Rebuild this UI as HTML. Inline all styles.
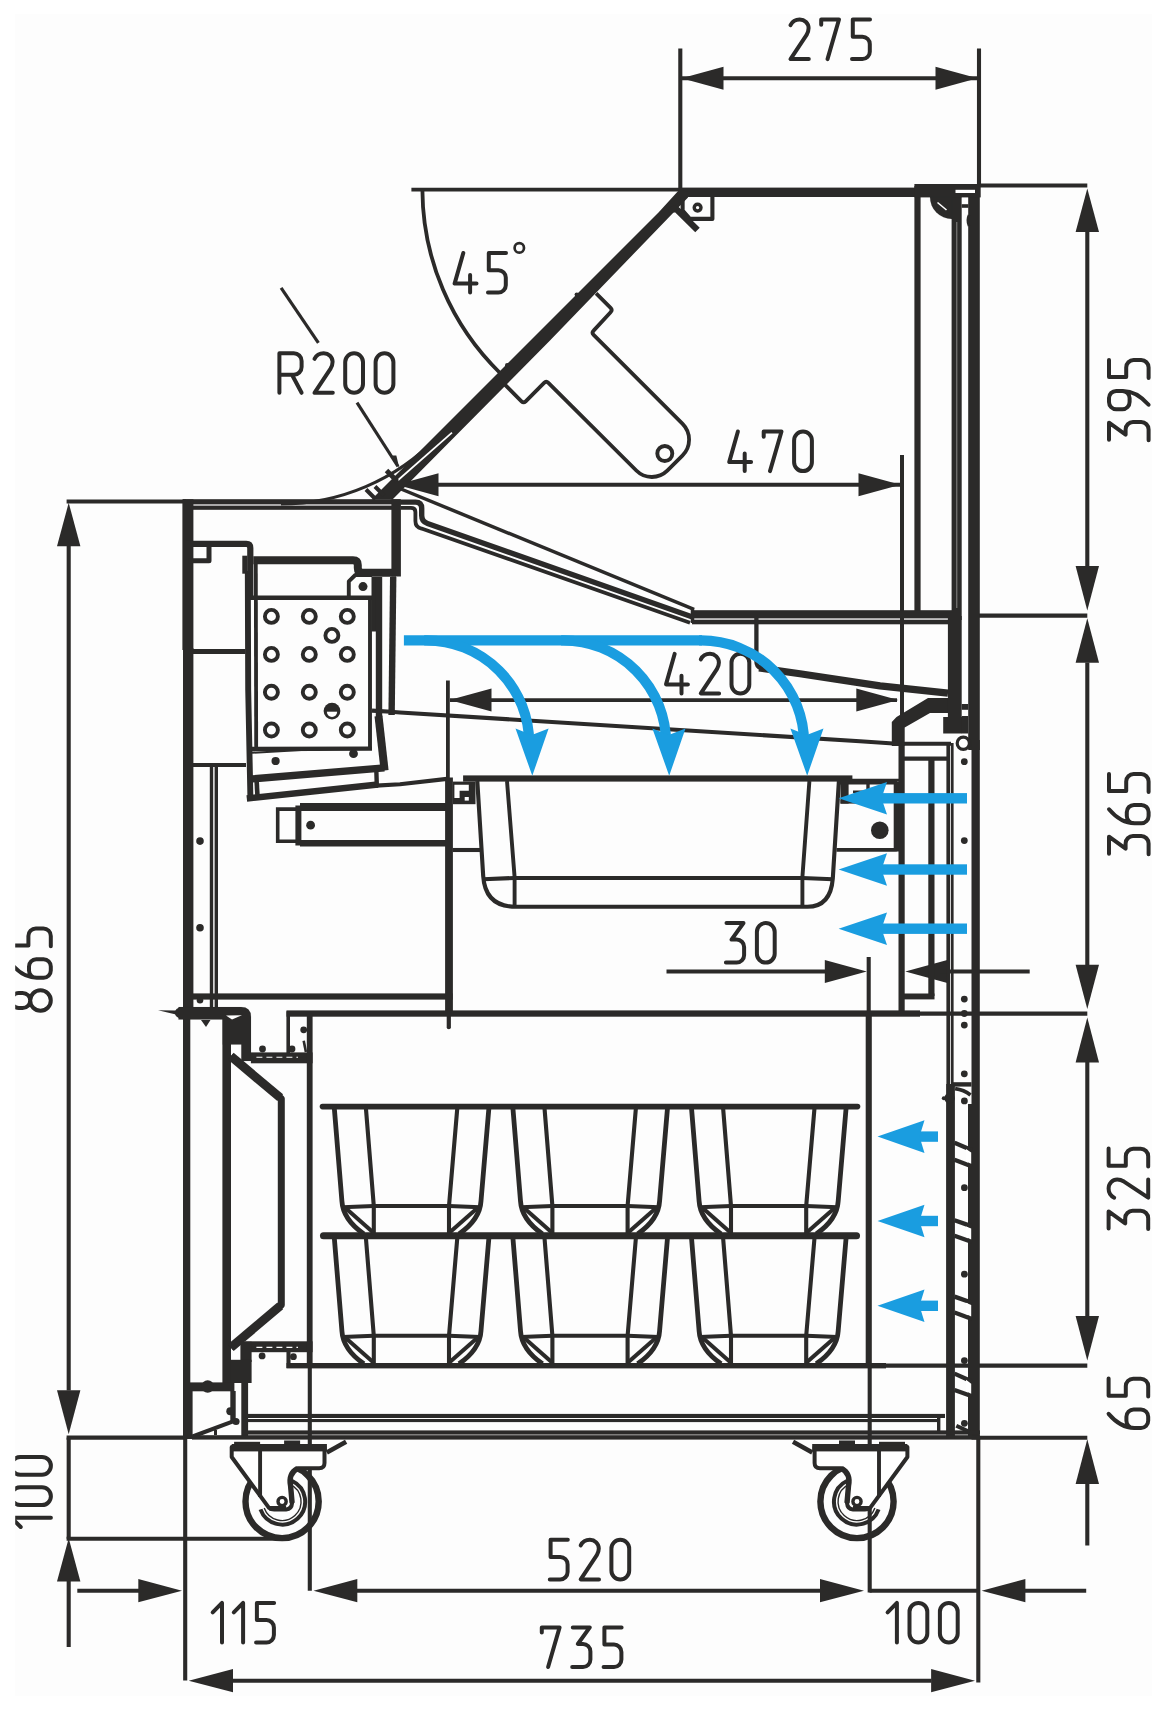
<!DOCTYPE html>
<html><head><meta charset="utf-8"><title>Section drawing</title>
<style>
html,body{margin:0;padding:0;background:#fff;}
body{width:1167px;height:1709px;overflow:hidden;font-family:"Liberation Sans",sans-serif;}
svg{display:block;}
</style></head><body>
<svg width="1167" height="1709" viewBox="0 0 1167 1709">
<rect width="1167" height="1709" fill="#ffffff"/><rect x="15.2" y="13.8" width="1136.8" height="1682.2" fill="#fdfdfd"/><defs><clipPath id="clipL"><rect x="15.2" y="0" width="200" height="1709"/></clipPath></defs>
<line x1="680.3" y1="48.5" x2="680.3" y2="188" stroke="#2b2a29" stroke-width="4.1" stroke-linecap="butt"/>
<line x1="979" y1="48.5" x2="979" y2="186" stroke="#2b2a29" stroke-width="4.1" stroke-linecap="butt"/>
<line x1="682" y1="78.2" x2="977" y2="78.2" stroke="#2b2a29" stroke-width="4.1" stroke-linecap="butt"/>
<polygon points="681.5,78.2 723.5,66.7 723.5,89.7" fill="#2b2a29"/>
<polygon points="977.5,78.2 935.5,66.7 935.5,89.7" fill="#2b2a29"/>
<g transform="translate(790.2,19.5) rotate(0) scale(1.0)" fill="none" stroke="#2b2a29" stroke-width="4.0" stroke-linecap="round" stroke-linejoin="round">
<path transform="translate(0.00,0)" d="M0.3,5.6 C2,2.2 5.5,0 9.5,0 A8.9,8.6 0 0 1 18.4,8.6 C18.4,11.2 17.8,13 16.4,15.4 L0.3,39.6 H18.6"/>
<path transform="translate(31.00,0)" d="M0,5.2 V0 H17.8 L6.3,39.6"/>
<path transform="translate(61.40,0)" d="M18.4,0 H1.2 V17.2 H10.8 A7.4,7.4 0 0 1 18.2,24.6 V32.2 A7.4,7.4 0 0 1 10.8,39.6 H0.4"/>
</g>
<line x1="1087.3" y1="232" x2="1087.3" y2="566" stroke="#2b2a29" stroke-width="4.1" stroke-linecap="butt"/>
<line x1="1087.3" y1="662.5" x2="1087.3" y2="965" stroke="#2b2a29" stroke-width="4.1" stroke-linecap="butt"/>
<line x1="1087.3" y1="1062" x2="1087.3" y2="1316.3" stroke="#2b2a29" stroke-width="4.1" stroke-linecap="butt"/>
<line x1="1087.3" y1="1484" x2="1087.3" y2="1545.5" stroke="#2b2a29" stroke-width="4.1" stroke-linecap="butt"/>
<line x1="980" y1="185.5" x2="1087.3" y2="185.5" stroke="#2b2a29" stroke-width="4.1" stroke-linecap="butt"/>
<line x1="979" y1="615.6" x2="1087.3" y2="615.6" stroke="#2b2a29" stroke-width="4.1" stroke-linecap="butt"/>
<line x1="915" y1="1013.6" x2="1087.3" y2="1013.6" stroke="#2b2a29" stroke-width="4.1" stroke-linecap="butt"/>
<line x1="885" y1="1365.6" x2="1087.3" y2="1365.6" stroke="#2b2a29" stroke-width="4.1" stroke-linecap="butt"/>
<line x1="980" y1="1437.7" x2="1087.3" y2="1437.7" stroke="#2b2a29" stroke-width="4.1" stroke-linecap="butt"/>
<polygon points="1087.3,188.5 1075.6,232.1 1099.0,232.1" fill="#2b2a29"/>
<polygon points="1087.3,610.6 1075.6,565.9 1099.0,565.9" fill="#2b2a29"/>
<polygon points="1087.3,618.3 1075.6,662.7 1099.0,662.7" fill="#2b2a29"/>
<polygon points="1087.3,1009.1 1075.6,964.7 1099.0,964.7" fill="#2b2a29"/>
<polygon points="1087.3,1017.6 1075.6,1062.4 1099.0,1062.4" fill="#2b2a29"/>
<polygon points="1087.3,1360.4 1075.6,1316.1 1099.0,1316.1" fill="#2b2a29"/>
<polygon points="1087.3,1439.2 1075.6,1484.1 1099.0,1484.1" fill="#2b2a29"/>
<g transform="translate(1109,440.3) rotate(-90) scale(1.0)" fill="none" stroke="#2b2a29" stroke-width="4.0" stroke-linecap="round" stroke-linejoin="round">
<path transform="translate(0.00,0)" d="M0.6,0 H17.6 L5.6,16.6 H10.8 A7.4,7.4 0 0 1 18.2,24 V32.2 A7.4,7.4 0 0 1 10.8,39.6 H0"/>
<path transform="translate(31.00,0)" d="M4.6,39.6 C11,34 18.4,24.5 18.4,14 V7.2 A7.2,7.2 0 0 0 11.2,0 H7.2 A7.2,7.2 0 0 0 0,7.2 V13.4 A7.2,7.2 0 0 0 7.2,20.6 H11.2 A7.2,7.2 0 0 0 18.4,13.4"/>
<path transform="translate(62.00,0)" d="M18.4,0 H1.2 V17.2 H10.8 A7.4,7.4 0 0 1 18.2,24.6 V32.2 A7.4,7.4 0 0 1 10.8,39.6 H0.4"/>
</g>
<g transform="translate(1109,854.3) rotate(-90) scale(1.0)" fill="none" stroke="#2b2a29" stroke-width="4.0" stroke-linecap="round" stroke-linejoin="round">
<path transform="translate(0.00,0)" d="M0.6,0 H17.6 L5.6,16.6 H10.8 A7.4,7.4 0 0 1 18.2,24 V32.2 A7.4,7.4 0 0 1 10.8,39.6 H0"/>
<path transform="translate(31.00,0)" d="M14,0 C7.5,5.5 0,15 0,25.5 V32.4 A7.2,7.2 0 0 0 7.2,39.6 H11.2 A7.2,7.2 0 0 0 18.4,32.4 V25 A7.2,7.2 0 0 0 11.2,17.8 H7.2 A7.2,7.2 0 0 0 0,25"/>
<path transform="translate(62.00,0)" d="M18.4,0 H1.2 V17.2 H10.8 A7.4,7.4 0 0 1 18.2,24.6 V32.2 A7.4,7.4 0 0 1 10.8,39.6 H0.4"/>
</g>
<g transform="translate(1108.6,1229) rotate(-90) scale(1.0)" fill="none" stroke="#2b2a29" stroke-width="4.0" stroke-linecap="round" stroke-linejoin="round">
<path transform="translate(0.00,0)" d="M0.6,0 H17.6 L5.6,16.6 H10.8 A7.4,7.4 0 0 1 18.2,24 V32.2 A7.4,7.4 0 0 1 10.8,39.6 H0"/>
<path transform="translate(31.00,0)" d="M0.3,5.6 C2,2.2 5.5,0 9.5,0 A8.9,8.6 0 0 1 18.4,8.6 C18.4,11.2 17.8,13 16.4,15.4 L0.3,39.6 H18.6"/>
<path transform="translate(62.00,0)" d="M18.4,0 H1.2 V17.2 H10.8 A7.4,7.4 0 0 1 18.2,24.6 V32.2 A7.4,7.4 0 0 1 10.8,39.6 H0.4"/>
</g>
<g transform="translate(1108.6,1427.9) rotate(-90) scale(1.0)" fill="none" stroke="#2b2a29" stroke-width="4.0" stroke-linecap="round" stroke-linejoin="round">
<path transform="translate(0.00,0)" d="M14,0 C7.5,5.5 0,15 0,25.5 V32.4 A7.2,7.2 0 0 0 7.2,39.6 H11.2 A7.2,7.2 0 0 0 18.4,32.4 V25 A7.2,7.2 0 0 0 11.2,17.8 H7.2 A7.2,7.2 0 0 0 0,25"/>
<path transform="translate(31.00,0)" d="M18.4,0 H1.2 V17.2 H10.8 A7.4,7.4 0 0 1 18.2,24.6 V32.2 A7.4,7.4 0 0 1 10.8,39.6 H0.4"/>
</g>
<line x1="68.7" y1="546" x2="68.7" y2="1390.5" stroke="#2b2a29" stroke-width="4.1" stroke-linecap="butt"/>
<line x1="68.7" y1="1437.6" x2="68.7" y2="1538.8" stroke="#2b2a29" stroke-width="4.1" stroke-linecap="butt"/>
<line x1="68.7" y1="1581" x2="68.7" y2="1647" stroke="#2b2a29" stroke-width="4.1" stroke-linecap="butt"/>
<line x1="66.6" y1="501.5" x2="186" y2="501.5" stroke="#2b2a29" stroke-width="4.1" stroke-linecap="butt"/>
<line x1="66.6" y1="1437.6" x2="186" y2="1437.6" stroke="#2b2a29" stroke-width="4.1" stroke-linecap="butt"/>
<line x1="66.6" y1="1538.8" x2="283" y2="1538.8" stroke="#2b2a29" stroke-width="4.1" stroke-linecap="butt"/>
<polygon points="68.7,502.8 57.0,546.3 80.4,546.3" fill="#2b2a29"/>
<polygon points="68.7,1434.3 57.0,1390.3 80.4,1390.3" fill="#2b2a29"/>
<polygon points="68.7,1538.3 57.0,1581.4 80.4,1581.4" fill="#2b2a29"/>
<g clip-path="url(#clipL)">
<g transform="translate(11.2,1010.7) rotate(-90) scale(1.0)" fill="none" stroke="#2b2a29" stroke-width="4.0" stroke-linecap="round" stroke-linejoin="round">
<path transform="translate(0.00,0)" d="M10.2,0 A7.6,7.6 0 0 1 17.8,7.6 V11.4 A7.6,7.6 0 0 1 2.6,11.4 V7.6 A7.6,7.6 0 0 1 10.2,0 Z M10.2,19 A10.2,10.3 0 0 1 10.2,39.6 A10.2,10.3 0 0 1 10.2,19 Z"/>
<path transform="translate(33.00,0)" d="M14,0 C7.5,5.5 0,15 0,25.5 V32.4 A7.2,7.2 0 0 0 7.2,39.6 H11.2 A7.2,7.2 0 0 0 18.4,32.4 V25 A7.2,7.2 0 0 0 11.2,17.8 H7.2 A7.2,7.2 0 0 0 0,25"/>
<path transform="translate(64.00,0)" d="M18.4,0 H1.2 V17.2 H10.8 A7.4,7.4 0 0 1 18.2,24.6 V32.2 A7.4,7.4 0 0 1 10.8,39.6 H0.4"/>
</g>
<g transform="translate(11.3,1526.2) rotate(-90) scale(1.0)" fill="none" stroke="#2b2a29" stroke-width="4.0" stroke-linecap="round" stroke-linejoin="round">
<path transform="translate(0.00,0)" d="M-0.8,9.4 L8.5,0 V39.6"/>
<path transform="translate(21.10,0)" d="M0,8.9 A8.9,8.9 0 0 1 17.8,8.9 V30.7 A8.9,8.9 0 0 1 0,30.7 Z"/>
<path transform="translate(51.50,0)" d="M0,8.9 A8.9,8.9 0 0 1 17.8,8.9 V30.7 A8.9,8.9 0 0 1 0,30.7 Z"/>
</g>
</g>
<line x1="77.3" y1="1590.7" x2="139" y2="1590.7" stroke="#2b2a29" stroke-width="4.1" stroke-linecap="butt"/>
<polygon points="182,1590.7 138.3,1579.1000000000001 138.3,1602.3" fill="#2b2a29"/>
<line x1="357" y1="1590.7" x2="820.5" y2="1590.7" stroke="#2b2a29" stroke-width="4.1" stroke-linecap="butt"/>
<polygon points="313.5,1590.7 357.3,1579.1000000000001 357.3,1602.3" fill="#2b2a29"/>
<polygon points="864,1590.7 820,1579.1000000000001 820,1602.3" fill="#2b2a29"/>
<line x1="869.5" y1="1590.7" x2="978.4" y2="1590.7" stroke="#2b2a29" stroke-width="4.1" stroke-linecap="butt"/>
<polygon points="981.6,1590.7 1025.4,1579.1000000000001 1025.4,1602.3" fill="#2b2a29"/>
<line x1="1025" y1="1590.7" x2="1086.2" y2="1590.7" stroke="#2b2a29" stroke-width="4.1" stroke-linecap="butt"/>
<line x1="232.5" y1="1680.7" x2="931.5" y2="1680.7" stroke="#2b2a29" stroke-width="4.1" stroke-linecap="butt"/>
<polygon points="188.7,1680.7 233,1669.1000000000001 233,1692.3" fill="#2b2a29"/>
<polygon points="975,1680.7 931.1,1669.1000000000001 931.1,1692.3" fill="#2b2a29"/>
<line x1="185.2" y1="1437" x2="185.2" y2="1680.5" stroke="#2b2a29" stroke-width="4.1" stroke-linecap="butt"/>
<line x1="309.8" y1="1366" x2="309.8" y2="1590.7" stroke="#2b2a29" stroke-width="4.1" stroke-linecap="butt"/>
<line x1="869.7" y1="1366" x2="869.7" y2="1592.5" stroke="#2b2a29" stroke-width="4.1" stroke-linecap="butt"/>
<line x1="978.3" y1="1439" x2="978.3" y2="1682.5" stroke="#2b2a29" stroke-width="4.1" stroke-linecap="butt"/>
<g transform="translate(549.4,1539.8) rotate(0) scale(1.0)" fill="none" stroke="#2b2a29" stroke-width="4.0" stroke-linecap="round" stroke-linejoin="round">
<path transform="translate(0.00,0)" d="M18.4,0 H1.2 V17.2 H10.8 A7.4,7.4 0 0 1 18.2,24.6 V32.2 A7.4,7.4 0 0 1 10.8,39.6 H0.4"/>
<path transform="translate(31.00,0)" d="M0.3,5.6 C2,2.2 5.5,0 9.5,0 A8.9,8.6 0 0 1 18.4,8.6 C18.4,11.2 17.8,13 16.4,15.4 L0.3,39.6 H18.6"/>
<path transform="translate(62.00,0)" d="M0,8.9 A8.9,8.9 0 0 1 17.8,8.9 V30.7 A8.9,8.9 0 0 1 0,30.7 Z"/>
</g>
<g transform="translate(541.8,1627.4) rotate(0) scale(1.0)" fill="none" stroke="#2b2a29" stroke-width="4.0" stroke-linecap="round" stroke-linejoin="round">
<path transform="translate(0.00,0)" d="M0,5.2 V0 H17.8 L6.3,39.6"/>
<path transform="translate(30.40,0)" d="M0.6,0 H17.6 L5.6,16.6 H10.8 A7.4,7.4 0 0 1 18.2,24 V32.2 A7.4,7.4 0 0 1 10.8,39.6 H0"/>
<path transform="translate(61.40,0)" d="M18.4,0 H1.2 V17.2 H10.8 A7.4,7.4 0 0 1 18.2,24.6 V32.2 A7.4,7.4 0 0 1 10.8,39.6 H0.4"/>
</g>
<g transform="translate(213.5,1602.9) rotate(0) scale(1.0)" fill="none" stroke="#2b2a29" stroke-width="4.0" stroke-linecap="round" stroke-linejoin="round">
<path transform="translate(0.00,0)" d="M-0.8,9.4 L8.5,0 V39.6"/>
<path transform="translate(21.10,0)" d="M-0.8,9.4 L8.5,0 V39.6"/>
<path transform="translate(42.20,0)" d="M18.4,0 H1.2 V17.2 H10.8 A7.4,7.4 0 0 1 18.2,24.6 V32.2 A7.4,7.4 0 0 1 10.8,39.6 H0.4"/>
</g>
<g transform="translate(888.4,1602.9) rotate(0) scale(1.0)" fill="none" stroke="#2b2a29" stroke-width="4.0" stroke-linecap="round" stroke-linejoin="round">
<path transform="translate(0.00,0)" d="M-0.8,9.4 L8.5,0 V39.6"/>
<path transform="translate(21.10,0)" d="M0,8.9 A8.9,8.9 0 0 1 17.8,8.9 V30.7 A8.9,8.9 0 0 1 0,30.7 Z"/>
<path transform="translate(51.50,0)" d="M0,8.9 A8.9,8.9 0 0 1 17.8,8.9 V30.7 A8.9,8.9 0 0 1 0,30.7 Z"/>
</g>
<line x1="398" y1="484.7" x2="901" y2="484.7" stroke="#2b2a29" stroke-width="4.0" stroke-linecap="butt"/>
<polygon points="396.5,484.7 438.5,473.2 438.5,496.2" fill="#2b2a29"/>
<polygon points="900.5,484.7 858.5,473.2 858.5,496.2" fill="#2b2a29"/>
<line x1="902" y1="455" x2="902" y2="745" stroke="#2b2a29" stroke-width="4.0" stroke-linecap="butt"/>
<g transform="translate(729.2,431.5) rotate(0) scale(1.0)" fill="none" stroke="#2b2a29" stroke-width="4.0" stroke-linecap="round" stroke-linejoin="round">
<path transform="translate(0.00,0)" d="M8.7,0 L0,30.6 H21.9 M15.5,22 V39.6"/>
<path transform="translate(34.50,0)" d="M0,5.2 V0 H17.8 L6.3,39.6"/>
<path transform="translate(64.90,0)" d="M0,8.9 A8.9,8.9 0 0 1 17.8,8.9 V30.7 A8.9,8.9 0 0 1 0,30.7 Z"/>
</g>
<line x1="450" y1="700.1" x2="897" y2="700.1" stroke="#2b2a29" stroke-width="3.8" stroke-linecap="butt"/>
<polygon points="449.5,700.1 491.5,688.6 491.5,711.6" fill="#2b2a29"/>
<polygon points="898.3,700.1 856.3,688.6 856.3,711.6" fill="#2b2a29"/>
<line x1="447.9" y1="680.5" x2="447.9" y2="778" stroke="#2b2a29" stroke-width="3.8" stroke-linecap="butt"/>
<g transform="translate(666,653.8) rotate(0) scale(1.0)" fill="none" stroke="#2b2a29" stroke-width="4.0" stroke-linecap="round" stroke-linejoin="round">
<path transform="translate(0.00,0)" d="M8.7,0 L0,30.6 H21.9 M15.5,22 V39.6"/>
<path transform="translate(34.50,0)" d="M0.3,5.6 C2,2.2 5.5,0 9.5,0 A8.9,8.6 0 0 1 18.4,8.6 C18.4,11.2 17.8,13 16.4,15.4 L0.3,39.6 H18.6"/>
<path transform="translate(65.50,0)" d="M0,8.9 A8.9,8.9 0 0 1 17.8,8.9 V30.7 A8.9,8.9 0 0 1 0,30.7 Z"/>
</g>
<line x1="666.5" y1="971.6" x2="830" y2="971.6" stroke="#2b2a29" stroke-width="4.0" stroke-linecap="butt"/>
<polygon points="866.8,971.6 824.8,960.1 824.8,983.1" fill="#2b2a29"/>
<line x1="868.7" y1="957" x2="868.7" y2="1012" stroke="#2b2a29" stroke-width="4.1" stroke-linecap="butt"/>
<polygon points="905.3,971.6 947.3,960.1 947.3,983.1" fill="#2b2a29"/>
<line x1="940" y1="971.6" x2="1029.7" y2="971.6" stroke="#2b2a29" stroke-width="4.0" stroke-linecap="butt"/>
<g transform="translate(725.9,923) rotate(0) scale(1.0)" fill="none" stroke="#2b2a29" stroke-width="4.0" stroke-linecap="round" stroke-linejoin="round">
<path transform="translate(0.00,0)" d="M0.6,0 H17.6 L5.6,16.6 H10.8 A7.4,7.4 0 0 1 18.2,24 V32.2 A7.4,7.4 0 0 1 10.8,39.6 H0"/>
<path transform="translate(31.00,0)" d="M0,8.9 A8.9,8.9 0 0 1 17.8,8.9 V30.7 A8.9,8.9 0 0 1 0,30.7 Z"/>
</g>
<line x1="281.1" y1="287.8" x2="318.4" y2="342.8" stroke="#2b2a29" stroke-width="3.2" stroke-linecap="butt"/>
<line x1="357" y1="402.7" x2="398" y2="466.5" stroke="#2b2a29" stroke-width="3.2" stroke-linecap="butt"/>
<polygon points="399.5,468.5 392.3,455.5 396.3,455.5" fill="#2b2a29"/>
<g transform="translate(279.4,353.2) rotate(0) scale(1.0)" fill="none" stroke="#2b2a29" stroke-width="4.0" stroke-linecap="round" stroke-linejoin="round">
<path transform="translate(0.00,0)" d="M0,39.6 V0 H14.4 A7.8,7.8 0 0 1 22.2,7.8 V13.8 A7.8,7.8 0 0 1 14.4,21.6 H0 M12.6,21.6 L22.2,39.6"/>
<path transform="translate(34.80,0)" d="M0.3,5.6 C2,2.2 5.5,0 9.5,0 A8.9,8.6 0 0 1 18.4,8.6 C18.4,11.2 17.8,13 16.4,15.4 L0.3,39.6 H18.6"/>
<path transform="translate(65.80,0)" d="M0,8.9 A8.9,8.9 0 0 1 17.8,8.9 V30.7 A8.9,8.9 0 0 1 0,30.7 Z"/>
<path transform="translate(96.20,0)" d="M0,8.9 A8.9,8.9 0 0 1 17.8,8.9 V30.7 A8.9,8.9 0 0 1 0,30.7 Z"/>
</g>
<line x1="411.4" y1="189.6" x2="681" y2="189.6" stroke="#2b2a29" stroke-width="3.8" stroke-linecap="butt"/>
<path d="M422.4,190 A257.6,257.6 0 0 0 500.5,373.5" stroke="#2b2a29" stroke-width="3.8" fill="none" stroke-linejoin="round" stroke-linecap="butt"/>
<g transform="translate(454.6,253) rotate(0) scale(1.0)" fill="none" stroke="#2b2a29" stroke-width="4.0" stroke-linecap="round" stroke-linejoin="round">
<path transform="translate(0.00,0)" d="M8.7,0 L0,30.6 H21.9 M15.5,22 V39.6"/>
</g>
<g transform="translate(487.6,253) rotate(0) scale(1.0)" fill="none" stroke="#2b2a29" stroke-width="4.0" stroke-linecap="round" stroke-linejoin="round">
<path transform="translate(0.00,0)" d="M18.4,0 H1.2 V17.2 H10.8 A7.4,7.4 0 0 1 18.2,24.6 V32.2 A7.4,7.4 0 0 1 10.8,39.6 H0.4"/>
</g>
<circle cx="519.3" cy="247.9" r="4.7" fill="none" stroke="#2b2a29" stroke-width="2.7"/>
<rect x="681" y="187.6" width="236" height="9.400000000000006" fill="#2b2a29"/>
<polygon points="679.5,189.5 658.5,212.5 371.5,499.5 392.5,499.5 550,340.5 688,197.5 688,192" fill="#2b2a29"/>
<line x1="398.2" y1="480" x2="452" y2="432.6" stroke="#fff" stroke-width="1.7" stroke-linecap="butt"/>
<path d="M281,504 A216,216 0 0 0 437,437.4" stroke="#2b2a29" stroke-width="3.0" fill="none" stroke-linejoin="round" stroke-linecap="butt"/>
<line x1="386.5" y1="470.5" x2="397" y2="481" stroke="#2b2a29" stroke-width="5.0" stroke-linecap="butt"/>
<line x1="366" y1="489.5" x2="375.5" y2="499" stroke="#2b2a29" stroke-width="4.0" stroke-linecap="butt"/>
<line x1="375" y1="486.5" x2="384" y2="495.5" stroke="#2b2a29" stroke-width="4.0" stroke-linecap="butt"/>
<path d="M682.6,197 V210.7 L689.8,218.9 H712.4 V197" stroke="#2b2a29" stroke-width="4.1" fill="none" stroke-linejoin="round" stroke-linecap="butt"/>
<circle cx="697.6" cy="207.6" r="3.4" fill="none" stroke="#2b2a29" stroke-width="3.4"/>
<path d="M671.8,212.5 Q672,207 677,209.8 L697.5,230" stroke="#2b2a29" stroke-width="6.4" fill="none" stroke-linejoin="round" stroke-linecap="butt"/>
<path d="M596.1,293.4 L610.6,307.9 Q612.7,310.1 610.6,312.2 L593.6,330.6 Q591.5,332.7 593.6,334.8 L682.6,423.8 A22.5,22.5 0 0 1 682.4,455.6 L667.3,470.7 A22,22 0 0 1 636.3,470.5 L548.4,382.9 Q546.2,380.8 544.1,382.9 L525.7,401.3 Q523.6,403.4 521.5,401.3 L504.9,384.7" stroke="#2b2a29" stroke-width="3.8" fill="none" stroke-linejoin="round" stroke-linecap="butt"/>
<circle cx="664.8" cy="453.5" r="7.5" fill="none" stroke="#2b2a29" stroke-width="3.9"/>
<circle cx="576.8" cy="294.6" r="2.2" fill="#2b2a29"/>
<circle cx="507.2" cy="365.2" r="2.2" fill="#2b2a29"/>
<rect x="914.4" y="186" width="6.2000000000000455" height="430" fill="#2b2a29"/>
<rect x="951.6" y="197" width="10.100000000000023" height="423" fill="#2b2a29"/>
<line x1="956.8" y1="222" x2="956.8" y2="608" stroke="#8a8988" stroke-width="1.0" stroke-linecap="butt"/>
<rect x="968.2" y="186" width="11.599999999999909" height="564" fill="#2b2a29"/>
<rect x="971.5" y="740" width="8.299999999999955" height="699.5999999999999" fill="#2b2a29"/>
<rect x="914.4" y="184" width="66.30000000000007" height="13.400000000000006" fill="#2b2a29"/>
<rect x="955.5" y="189.8" width="19.5" height="3.1999999999999886" fill="#fff"/>
<rect x="961.9" y="198" width="5.800000000000068" height="6.5" fill="#fff"/>
<path d="M930,197 A22,22 0 0 0 952,219 V197 Z" stroke="#2b2a29" stroke-width="0.1" fill="#2b2a29" stroke-linejoin="round" stroke-linecap="butt"/>
<line x1="937.5" y1="202.5" x2="946.5" y2="210" stroke="#fff" stroke-width="1.6" stroke-linecap="butt"/>
<rect x="961.7" y="204.2" width="6.7999999999999545" height="3.6000000000000227" fill="#2b2a29"/>
<path d="M969,215 Q966.6,220 969,226" stroke="#2b2a29" stroke-width="2.6" fill="none" stroke-linejoin="round" stroke-linecap="butt"/>
<line x1="401" y1="489" x2="694" y2="609.4" stroke="#2b2a29" stroke-width="3.5" stroke-linecap="butt"/>
<path d="M400.5,502.1 H415.5 Q421.7,502.1 421.7,508.3 V515.5 Q421.7,521.5 427.5,523.5 L692.5,617" stroke="#2b2a29" stroke-width="5.4" fill="none" stroke-linejoin="round" stroke-linecap="butt"/>
<path d="M400.5,507.8 H411 Q415.4,507.8 415.4,512 V521 Q415.4,527.5 421.5,528.5 L690,622.7" stroke="#2b2a29" stroke-width="3.8" fill="none" stroke-linejoin="round" stroke-linecap="butt"/>
<line x1="692.5" y1="608" x2="692.5" y2="623" stroke="#2b2a29" stroke-width="3.5" stroke-linecap="butt"/>
<rect x="692" y="610.2" width="260" height="8.199999999999932" fill="#2b2a29"/>
<rect x="692" y="619.7" width="256" height="4.599999999999909" fill="#2b2a29"/>
<path d="M756.4,617 V661 Q756.4,667 761,668.2" stroke="#2b2a29" stroke-width="4.3" fill="none" stroke-linejoin="round" stroke-linecap="butt"/>
<path d="M759,667.9 L800,673.8 L880,685.9 L948,693.2" stroke="#2b2a29" stroke-width="7.2" fill="none" stroke-linejoin="round" stroke-linecap="butt"/>
<rect x="183" y="499.2" width="217.60000000000002" height="5.199999999999989" fill="#2b2a29"/>
<rect x="186" y="505.6" width="214" height="4.199999999999989" fill="#2b2a29"/>
<rect x="182.4" y="499.3" width="11.0" height="150.7" fill="#2b2a29"/>
<rect x="183" y="648" width="10.400000000000006" height="368" fill="#2b2a29"/>
<rect x="391.4" y="499.3" width="9.5" height="77.19999999999999" fill="#2b2a29"/>
<rect x="190" y="993.4" width="262.6" height="6.2000000000000455" fill="#2b2a29"/>
<rect x="209.8" y="765" width="3.3999999999999773" height="242" fill="#2b2a29"/>
<rect x="214.6" y="765" width="3.4000000000000057" height="242" fill="#2b2a29"/>
<line x1="192" y1="764.9" x2="246" y2="764.9" stroke="#2b2a29" stroke-width="4.0" stroke-linecap="butt"/>
<line x1="191" y1="651.5" x2="245.5" y2="651.5" stroke="#2b2a29" stroke-width="5.0" stroke-linecap="butt"/>
<circle cx="200" cy="841.1" r="3.8" fill="#2b2a29"/>
<circle cx="200" cy="927.7" r="3.8" fill="#2b2a29"/>
<path d="M188.9,560.8 H209 V544.1" stroke="#2b2a29" stroke-width="5.0" fill="none" stroke-linejoin="round" stroke-linecap="butt"/>
<path d="M186,543.8 H246.3 Q250.3,543.8 250.3,548 V599" stroke="#2b2a29" stroke-width="6.2" fill="none" stroke-linejoin="round" stroke-linecap="butt"/>
<path d="M247.8,571 L248.2,690 L250.4,797.8" stroke="#2b2a29" stroke-width="5.9" fill="none" stroke-linejoin="round" stroke-linecap="butt"/>
<rect x="242.3" y="555.7" width="5.199999999999989" height="18.0" fill="#2b2a29"/>
<path d="M253.3,560.2 H353 Q357.8,560.2 357.8,565 V568 Q357.8,572.7 362.5,572.7 H396" stroke="#2b2a29" stroke-width="8.0" fill="none" stroke-linejoin="round" stroke-linecap="butt"/>
<line x1="255.8" y1="564" x2="256.2" y2="749" stroke="#2b2a29" stroke-width="3.8" stroke-linecap="butt"/>
<path d="M348.8,596.2 V581.4 L355.3,575 H372" stroke="#2b2a29" stroke-width="3.9" fill="none" stroke-linejoin="round" stroke-linecap="butt"/>
<circle cx="363" cy="586.6" r="4.5" fill="#2b2a29"/>
<line x1="249" y1="597.8" x2="372" y2="597.8" stroke="#2b2a29" stroke-width="4.5" stroke-linecap="butt"/>
<line x1="370" y1="596" x2="370" y2="750" stroke="#2b2a29" stroke-width="3.9" stroke-linecap="butt"/>
<line x1="252" y1="749" x2="372" y2="748.6" stroke="#2b2a29" stroke-width="4.4" stroke-linecap="butt"/>
<line x1="252" y1="752.8" x2="310" y2="749.5" stroke="#2b2a29" stroke-width="2.0" stroke-linecap="butt"/>
<circle cx="271.4" cy="616.4" r="6.5" fill="none" stroke="#2b2a29" stroke-width="3.9"/>
<circle cx="309.3" cy="616.4" r="6.5" fill="none" stroke="#2b2a29" stroke-width="3.9"/>
<circle cx="347.3" cy="616.4" r="6.5" fill="none" stroke="#2b2a29" stroke-width="3.9"/>
<circle cx="271.4" cy="654.4" r="6.5" fill="none" stroke="#2b2a29" stroke-width="3.9"/>
<circle cx="309.3" cy="654.4" r="6.5" fill="none" stroke="#2b2a29" stroke-width="3.9"/>
<circle cx="347.3" cy="654.4" r="6.5" fill="none" stroke="#2b2a29" stroke-width="3.9"/>
<circle cx="271.4" cy="692.2" r="6.5" fill="none" stroke="#2b2a29" stroke-width="3.9"/>
<circle cx="309.3" cy="692.2" r="6.5" fill="none" stroke="#2b2a29" stroke-width="3.9"/>
<circle cx="347.3" cy="692.2" r="6.5" fill="none" stroke="#2b2a29" stroke-width="3.9"/>
<circle cx="271.4" cy="730" r="6.5" fill="none" stroke="#2b2a29" stroke-width="3.9"/>
<circle cx="309.3" cy="730" r="6.5" fill="none" stroke="#2b2a29" stroke-width="3.9"/>
<circle cx="347.3" cy="730" r="6.5" fill="none" stroke="#2b2a29" stroke-width="3.9"/>
<circle cx="331.9" cy="635.4" r="6.5" fill="none" stroke="#2b2a29" stroke-width="3.9"/>
<circle cx="332" cy="711.1" r="8.4" fill="#2b2a29"/>
<path d="M326.9,711.8 A5.1,5.1 0 0 0 337.1,711.8 Z" stroke="#fff" stroke-width="0.1" fill="#fff" stroke-linejoin="round" stroke-linecap="butt"/>
<line x1="374" y1="577" x2="374" y2="631.5" stroke="#2b2a29" stroke-width="5.0" stroke-linecap="butt"/>
<line x1="379" y1="577" x2="379" y2="717" stroke="#2b2a29" stroke-width="6.4" stroke-linecap="butt"/>
<line x1="393.2" y1="577" x2="391.6" y2="715" stroke="#2b2a29" stroke-width="6.4" stroke-linecap="butt"/>
<line x1="378.5" y1="716" x2="384.6" y2="770.5" stroke="#2b2a29" stroke-width="8.0" stroke-linecap="butt"/>
<line x1="251.8" y1="778.9" x2="384.4" y2="767.9" stroke="#2b2a29" stroke-width="7.3" stroke-linecap="butt"/>
<line x1="246.8" y1="798.5" x2="378" y2="784.6" stroke="#2b2a29" stroke-width="6.5" stroke-linecap="butt"/>
<path d="M376,785.6 L400,784.3 L447,778.9" stroke="#2b2a29" stroke-width="4.1" fill="none" stroke-linejoin="round" stroke-linecap="butt"/>
<line x1="256.5" y1="779" x2="257.5" y2="796" stroke="#2b2a29" stroke-width="4.6" stroke-linecap="butt"/>
<line x1="376.3" y1="770" x2="376.8" y2="785" stroke="#2b2a29" stroke-width="4.4" stroke-linecap="butt"/>
<circle cx="275.6" cy="761" r="4.1" fill="#2b2a29"/>
<circle cx="353.5" cy="753.7" r="4.4" fill="#2b2a29"/>
<path d="M372,710.6 L391,711.8 L400,712.5 L580,723.7 L860,741.2 L897,743.8" stroke="#2b2a29" stroke-width="4.1" fill="none" stroke-linejoin="round" stroke-linecap="butt"/>
<path d="M277.7,809.1 H298 M277.7,841.2 H298 M277.7,807.3 V843" stroke="#2b2a29" stroke-width="3.6" fill="none" stroke-linejoin="round" stroke-linecap="butt"/>
<line x1="298.4" y1="805.5" x2="298.4" y2="845.5" stroke="#2b2a29" stroke-width="6.0" stroke-linecap="butt"/>
<line x1="300" y1="806.9" x2="446" y2="806.9" stroke="#2b2a29" stroke-width="8.0" stroke-linecap="butt"/>
<line x1="300" y1="843.3" x2="446" y2="843.3" stroke="#2b2a29" stroke-width="6.6" stroke-linecap="butt"/>
<circle cx="310.6" cy="825.2" r="4.4" fill="#2b2a29"/>
<rect x="445.1" y="777.5" width="7.7999999999999545" height="234.5" fill="#2b2a29"/>
<line x1="448.8" y1="1010" x2="448.8" y2="1027.2" stroke="#2b2a29" stroke-width="4.2" stroke-linecap="round"/>
<rect x="463.1" y="775.4" width="389.29999999999995" height="6.2000000000000455" fill="#2b2a29"/>
<line x1="852" y1="780.2" x2="900" y2="780.2" stroke="#2b2a29" stroke-width="3.0" stroke-linecap="butt"/>
<path d="M477.3,781 L483.2,876 Q485.2,906.8 516,906.8 H807.4 Q830.6,906.8 832.8,878.5 L838.9,781" stroke="#2b2a29" stroke-width="4.1" fill="none" stroke-linejoin="round" stroke-linecap="butt"/>
<path d="M507,781 L514.6,877 V906.8" stroke="#2b2a29" stroke-width="3.9" fill="none" stroke-linejoin="round" stroke-linecap="butt"/>
<path d="M809.4,781 L802.4,877 V906.8" stroke="#2b2a29" stroke-width="3.9" fill="none" stroke-linejoin="round" stroke-linecap="butt"/>
<path d="M483.2,879.2 L514.6,878 H802.4 L832.8,879.2" stroke="#2b2a29" stroke-width="4.1" fill="none" stroke-linejoin="round" stroke-linecap="butt"/>
<rect x="452.9" y="781.6" width="22.600000000000023" height="22.600000000000023" fill="#2b2a29"/>
<polygon points="454.4,784.7 468.8,784.7 468.8,790.8 459.6,790.8 459.6,798 454.4,798" fill="#fff"/>
<rect x="464.7" y="797" width="4.100000000000023" height="3.6000000000000227" fill="#fff"/>
<line x1="452.6" y1="850" x2="480" y2="850" stroke="#2b2a29" stroke-width="4.1" stroke-linecap="butt"/>
<path d="M839,782.5 H895.6 V849.9 H836.5" stroke="#2b2a29" stroke-width="3.8" fill="none" stroke-linejoin="round" stroke-linecap="butt"/>
<rect x="840.5" y="781" width="8.100000000000023" height="22.600000000000023" fill="#2b2a29"/>
<rect x="840.5" y="799.6" width="27.5" height="4.0" fill="#2b2a29"/>
<rect x="853" y="790.5" width="16.5" height="2.7000000000000455" fill="#2b2a29"/>
<line x1="868" y1="781" x2="868" y2="803.6" stroke="#2b2a29" stroke-width="3.4" stroke-linecap="butt"/>
<circle cx="879.8" cy="830.3" r="8.8" fill="#2b2a29"/>
<rect x="896.5" y="782" width="2.5" height="69.5" fill="#2b2a29"/>
<rect x="898.5" y="742" width="6.2000000000000455" height="274" fill="#2b2a29"/>
<polygon points="948,698 928,698 896.5,717 891.8,722 891.8,746 904.7,746 904.7,727.5 930,712.9 948,712.9" fill="#2b2a29"/>
<line x1="904" y1="743.8" x2="951" y2="743.8" stroke="#2b2a29" stroke-width="4.1" stroke-linecap="butt"/>
<line x1="904" y1="758.6" x2="947" y2="758.6" stroke="#2b2a29" stroke-width="4.1" stroke-linecap="butt"/>
<rect x="928.3" y="758" width="6.2000000000000455" height="238" fill="#2b2a29"/>
<rect x="904" y="993.5" width="30.5" height="5.899999999999977" fill="#2b2a29"/>
<rect x="946.4" y="743" width="3.6000000000000227" height="341" fill="#2b2a29"/>
<rect x="950.8" y="743" width="2.800000000000068" height="341" fill="#2b2a29"/>
<rect x="943.2" y="717" width="18.799999999999955" height="16.5" fill="#2b2a29"/>
<rect x="947.9" y="616" width="13.800000000000068" height="104" fill="#2b2a29"/>
<rect x="961.7" y="704" width="6.5" height="5.7999999999999545" fill="#2b2a29"/>
<rect x="961.7" y="716" width="6.5" height="17.5" fill="#2b2a29"/>
<circle cx="963.3" cy="743.2" r="6.1" fill="#fff" stroke="#2b2a29" stroke-width="3.2"/>
<circle cx="964.3" cy="761.7" r="3.4" fill="#2b2a29"/>
<circle cx="964.3" cy="840.6" r="3.4" fill="#2b2a29"/>
<circle cx="964.3" cy="999.1" r="3.4" fill="#2b2a29"/>
<circle cx="964.3" cy="1013.5" r="3.4" fill="#2b2a29"/>
<circle cx="964.3" cy="1025.1" r="3.4" fill="#2b2a29"/>
<circle cx="964.3" cy="1073.8" r="3.4" fill="#2b2a29"/>
<rect x="286.5" y="1010.4" width="633.5" height="6.300000000000068" fill="#2b2a29"/>
<rect x="183" y="1016" width="7.300000000000011" height="423" fill="#2b2a29"/>
<rect x="183" y="1383" width="9.599999999999994" height="56" fill="#2b2a29"/>
<polygon points="158,1010.2 176,1010.6 176,1014.5" fill="#2b2a29"/>
<circle cx="180.3" cy="1012.8" r="5.4" fill="#2b2a29"/>
<path d="M178.5,1007.1 H241 Q251,1007.1 251,1017 V1061 H241.3 V1044.5 H222.8 V1019.5 H178.5 Z" stroke="#2b2a29" stroke-width="0.1" fill="#2b2a29" stroke-linejoin="round" stroke-linecap="butt"/>
<rect x="230.3" y="1045.5" width="8.299999999999983" height="10.299999999999955" fill="#fff"/>
<circle cx="200" cy="1000.2" r="3.3" fill="#2b2a29"/>
<polygon points="201,1020 210.5,1020 206,1027" fill="#2b2a29"/>
<polygon points="226,1015.6 242,1015.2 232,1019.4" fill="#fff"/>
<rect x="222.4" y="1019" width="8.599999999999994" height="371" fill="#2b2a29"/>
<path d="M230.8,1056.2 L281.3,1098.6 V1305 L230.8,1347.6" stroke="#2b2a29" stroke-width="7.0" fill="none" stroke-linejoin="round" stroke-linecap="butt"/>
<line x1="230.8" y1="1056.2" x2="280.2" y2="1097.7" stroke="#2b2a29" stroke-width="8.9" stroke-linecap="butt"/>
<line x1="230.8" y1="1347.6" x2="280.2" y2="1305.9" stroke="#2b2a29" stroke-width="8.9" stroke-linecap="butt"/>
<rect x="250.9" y="1052.4" width="61.70000000000002" height="10.899999999999864" fill="#2b2a29"/>
<line x1="256.4" y1="1057.2" x2="298" y2="1057.2" stroke="#fff" stroke-width="1.1" stroke-dasharray="6 4"/>
<line x1="288.2" y1="1011.3" x2="288.2" y2="1053" stroke="#2b2a29" stroke-width="3.6" stroke-linecap="butt"/>
<circle cx="262.5" cy="1049" r="3.4" fill="#2b2a29"/>
<circle cx="292" cy="1049" r="3.4" fill="#2b2a29"/>
<circle cx="303.7" cy="1029.8" r="3.4" fill="#2b2a29"/>
<line x1="303.7" y1="1040.7" x2="305.9" y2="1052" stroke="#2b2a29" stroke-width="2.6" stroke-linecap="butt"/>
<rect x="244.7" y="1341.3" width="67.90000000000003" height="10.900000000000091" fill="#2b2a29"/>
<line x1="256.4" y1="1347.4" x2="298" y2="1347.4" stroke="#fff" stroke-width="1.1" stroke-dasharray="6 4"/>
<line x1="288.5" y1="1352" x2="288.5" y2="1368" stroke="#2b2a29" stroke-width="4.1" stroke-linecap="butt"/>
<circle cx="262.1" cy="1355.9" r="3.4" fill="#2b2a29"/>
<circle cx="293.4" cy="1356.7" r="3.4" fill="#2b2a29"/>
<rect x="240.4" y="1341.7" width="11.199999999999989" height="20.299999999999955" fill="#2b2a29"/>
<rect x="230.8" y="1359.8" width="20.799999999999983" height="23.200000000000045" fill="#2b2a29"/>
<rect x="241.3" y="1383" width="6.799999999999983" height="56" fill="#2b2a29"/>
<rect x="190" y="1382.4" width="44.400000000000006" height="8.899999999999864" fill="#2b2a29"/>
<circle cx="207.7" cy="1386.5" r="6.2" fill="#2b2a29"/>
<line x1="233" y1="1391" x2="233" y2="1421.5" stroke="#2b2a29" stroke-width="5.4" stroke-linecap="butt"/>
<circle cx="230.3" cy="1411.2" r="4" fill="#2b2a29"/>
<circle cx="236" cy="1421.5" r="3.6" fill="#2b2a29"/>
<line x1="192.6" y1="1436.5" x2="234.4" y2="1420.8" stroke="#2b2a29" stroke-width="4.1" stroke-linecap="butt"/>
<line x1="215.5" y1="1430" x2="215.5" y2="1435" stroke="#2b2a29" stroke-width="3.0" stroke-linecap="butt"/>
<rect x="306.8" y="1014" width="5.800000000000011" height="354" fill="#2b2a29"/>
<rect x="286.5" y="1363.0" width="599.5" height="5.400000000000091" fill="#2b2a29"/>
<rect x="865.7" y="1014" width="6.099999999999909" height="354" fill="#2b2a29"/>
<rect x="248" y="1413.9" width="697" height="4.099999999999909" fill="#2b2a29"/>
<rect x="248" y="1419" width="690.5" height="3.099999999999909" fill="#2b2a29"/>
<line x1="938.7" y1="1414" x2="938.7" y2="1432" stroke="#2b2a29" stroke-width="3.4" stroke-linecap="butt"/>
<rect x="192" y="1435.2" width="788" height="4.399999999999864" fill="#2b2a29"/>
<rect x="245" y="1430.4" width="735" height="4.199999999999818" fill="#2b2a29"/>
<rect x="946.1" y="1084" width="8.799999999999955" height="355" fill="#2b2a29"/>
<rect x="968" y="1104" width="4" height="335" fill="#2b2a29"/>
<line x1="953" y1="1084.4" x2="971.5" y2="1084.4" stroke="#2b2a29" stroke-width="4.4" stroke-linecap="butt"/>
<path d="M955.1,1088.7 Q964,1090 970.5,1095" stroke="#2b2a29" stroke-width="3.8" fill="none" stroke-linejoin="round" stroke-linecap="butt"/>
<line x1="954.5" y1="1142.8" x2="972" y2="1150.2" stroke="#2b2a29" stroke-width="4.3" stroke-linecap="butt"/>
<line x1="954.5" y1="1159.8" x2="972" y2="1166.4" stroke="#2b2a29" stroke-width="4.3" stroke-linecap="butt"/>
<line x1="954.5" y1="1220.2" x2="972" y2="1226.4" stroke="#2b2a29" stroke-width="4.3" stroke-linecap="butt"/>
<line x1="954.5" y1="1235.8" x2="972" y2="1242.0" stroke="#2b2a29" stroke-width="4.3" stroke-linecap="butt"/>
<line x1="954.5" y1="1296.6" x2="972" y2="1302.7" stroke="#2b2a29" stroke-width="4.3" stroke-linecap="butt"/>
<line x1="954.5" y1="1312.6" x2="972" y2="1319.1000000000001" stroke="#2b2a29" stroke-width="4.3" stroke-linecap="butt"/>
<line x1="954.5" y1="1373.6" x2="972" y2="1381.5" stroke="#2b2a29" stroke-width="4.3" stroke-linecap="butt"/>
<line x1="954.5" y1="1390" x2="972" y2="1396.3000000000002" stroke="#2b2a29" stroke-width="4.3" stroke-linecap="butt"/>
<polygon points="966,1149.0 971.2,1152.3999999999999 971.2,1163.8 966,1161.4" fill="#fff"/>
<polygon points="966,1226.4 971.2,1228.6 971.2,1239.3999999999999 966,1237.0" fill="#fff"/>
<polygon points="966,1302.8 971.2,1304.8999999999999 971.2,1316.5 966,1314.1000000000001" fill="#fff"/>
<polygon points="966,1379.8 971.2,1383.6999999999998 971.2,1393.7 966,1391.3000000000002" fill="#fff"/>
<line x1="956.3" y1="1425.7" x2="969.3" y2="1431.8" stroke="#2b2a29" stroke-width="4.0" stroke-linecap="butt"/>
<circle cx="964.4" cy="1100.9" r="3.4" fill="#2b2a29"/>
<circle cx="964.4" cy="1187.7" r="3.4" fill="#2b2a29"/>
<circle cx="964.4" cy="1274.2" r="3.4" fill="#2b2a29"/>
<circle cx="964.4" cy="1360.6" r="3.4" fill="#2b2a29"/>
<circle cx="964.4" cy="1423.3" r="3.4" fill="#2b2a29"/>
<circle cx="949.5" cy="1098.3" r="5.2" fill="#2b2a29"/>
<circle cx="943.8" cy="1098.3" r="2.0" fill="#2b2a29"/>
<line x1="322.5" y1="1106.6" x2="857.5" y2="1106.6" stroke="#2b2a29" stroke-width="5.6" stroke-linecap="round"/>
<line x1="323.5" y1="1235.8" x2="856.5" y2="1235.8" stroke="#2b2a29" stroke-width="7.1" stroke-linecap="round"/>
<path d="M334.3,1108 L341.9,1201 C342.7,1215 350.9,1225 363.9,1234" stroke="#2b2a29" stroke-width="4.8" fill="none" stroke-linejoin="round" stroke-linecap="butt"/>
<path d="M488.9,1108 L481.0,1201 C480.2,1215 472.0,1225 459.0,1234" stroke="#2b2a29" stroke-width="4.8" fill="none" stroke-linejoin="round" stroke-linecap="butt"/>
<path d="M365.9,1108 L373.8,1206 V1234" stroke="#2b2a29" stroke-width="4.1" fill="none" stroke-linejoin="round" stroke-linecap="butt"/>
<path d="M457.3,1108 L449.0,1206 V1234" stroke="#2b2a29" stroke-width="4.1" fill="none" stroke-linejoin="round" stroke-linecap="butt"/>
<path d="M342.5,1207.2 L373.8,1206 H449.0 L480.4,1207.2" stroke="#2b2a29" stroke-width="4.1" fill="none" stroke-linejoin="round" stroke-linecap="butt"/>
<path d="M344.9,1207.5 L373.8,1233" stroke="#2b2a29" stroke-width="4.1" fill="none" stroke-linejoin="round" stroke-linecap="butt"/>
<path d="M478.0,1207.5 L449.0,1233" stroke="#2b2a29" stroke-width="4.1" fill="none" stroke-linejoin="round" stroke-linecap="butt"/>
<path d="M512.9,1108 L520.5,1201 C521.3,1215 529.5,1225 542.5,1234" stroke="#2b2a29" stroke-width="4.8" fill="none" stroke-linejoin="round" stroke-linecap="butt"/>
<path d="M667.5,1108 L659.6,1201 C658.8000000000001,1215 650.6,1225 637.6,1234" stroke="#2b2a29" stroke-width="4.8" fill="none" stroke-linejoin="round" stroke-linecap="butt"/>
<path d="M544.5,1108 L552.4,1206 V1234" stroke="#2b2a29" stroke-width="4.1" fill="none" stroke-linejoin="round" stroke-linecap="butt"/>
<path d="M635.9,1108 L627.6,1206 V1234" stroke="#2b2a29" stroke-width="4.1" fill="none" stroke-linejoin="round" stroke-linecap="butt"/>
<path d="M521.1,1207.2 L552.4,1206 H627.6 L659.0,1207.2" stroke="#2b2a29" stroke-width="4.1" fill="none" stroke-linejoin="round" stroke-linecap="butt"/>
<path d="M523.5,1207.5 L552.4,1233" stroke="#2b2a29" stroke-width="4.1" fill="none" stroke-linejoin="round" stroke-linecap="butt"/>
<path d="M656.6,1207.5 L627.6,1233" stroke="#2b2a29" stroke-width="4.1" fill="none" stroke-linejoin="round" stroke-linecap="butt"/>
<path d="M691.5,1108 L699.0999999999999,1201 C699.8999999999999,1215 708.0999999999999,1225 721.0999999999999,1234" stroke="#2b2a29" stroke-width="4.8" fill="none" stroke-linejoin="round" stroke-linecap="butt"/>
<path d="M846.0999999999999,1108 L838.2,1201 C837.4000000000001,1215 829.2,1225 816.2,1234" stroke="#2b2a29" stroke-width="4.8" fill="none" stroke-linejoin="round" stroke-linecap="butt"/>
<path d="M723.0999999999999,1108 L731.0,1206 V1234" stroke="#2b2a29" stroke-width="4.1" fill="none" stroke-linejoin="round" stroke-linecap="butt"/>
<path d="M814.5,1108 L806.2,1206 V1234" stroke="#2b2a29" stroke-width="4.1" fill="none" stroke-linejoin="round" stroke-linecap="butt"/>
<path d="M699.6999999999999,1207.2 L731.0,1206 H806.2 L837.6,1207.2" stroke="#2b2a29" stroke-width="4.1" fill="none" stroke-linejoin="round" stroke-linecap="butt"/>
<path d="M702.0999999999999,1207.5 L731.0,1233" stroke="#2b2a29" stroke-width="4.1" fill="none" stroke-linejoin="round" stroke-linecap="butt"/>
<path d="M835.2,1207.5 L806.2,1233" stroke="#2b2a29" stroke-width="4.1" fill="none" stroke-linejoin="round" stroke-linecap="butt"/>
<path d="M334.3,1237.8 L341.9,1330.8 C342.7,1344.8 350.9,1354.8 363.9,1363.8" stroke="#2b2a29" stroke-width="4.8" fill="none" stroke-linejoin="round" stroke-linecap="butt"/>
<path d="M488.9,1237.8 L481.0,1330.8 C480.2,1344.8 472.0,1354.8 459.0,1363.8" stroke="#2b2a29" stroke-width="4.8" fill="none" stroke-linejoin="round" stroke-linecap="butt"/>
<path d="M365.9,1237.8 L373.8,1335.8 V1363.8" stroke="#2b2a29" stroke-width="4.1" fill="none" stroke-linejoin="round" stroke-linecap="butt"/>
<path d="M457.3,1237.8 L449.0,1335.8 V1363.8" stroke="#2b2a29" stroke-width="4.1" fill="none" stroke-linejoin="round" stroke-linecap="butt"/>
<path d="M342.5,1337.0 L373.8,1335.8 H449.0 L480.4,1337.0" stroke="#2b2a29" stroke-width="4.1" fill="none" stroke-linejoin="round" stroke-linecap="butt"/>
<path d="M344.9,1337.3 L373.8,1362.8" stroke="#2b2a29" stroke-width="4.1" fill="none" stroke-linejoin="round" stroke-linecap="butt"/>
<path d="M478.0,1337.3 L449.0,1362.8" stroke="#2b2a29" stroke-width="4.1" fill="none" stroke-linejoin="round" stroke-linecap="butt"/>
<path d="M512.9,1237.8 L520.5,1330.8 C521.3,1344.8 529.5,1354.8 542.5,1363.8" stroke="#2b2a29" stroke-width="4.8" fill="none" stroke-linejoin="round" stroke-linecap="butt"/>
<path d="M667.5,1237.8 L659.6,1330.8 C658.8000000000001,1344.8 650.6,1354.8 637.6,1363.8" stroke="#2b2a29" stroke-width="4.8" fill="none" stroke-linejoin="round" stroke-linecap="butt"/>
<path d="M544.5,1237.8 L552.4,1335.8 V1363.8" stroke="#2b2a29" stroke-width="4.1" fill="none" stroke-linejoin="round" stroke-linecap="butt"/>
<path d="M635.9,1237.8 L627.6,1335.8 V1363.8" stroke="#2b2a29" stroke-width="4.1" fill="none" stroke-linejoin="round" stroke-linecap="butt"/>
<path d="M521.1,1337.0 L552.4,1335.8 H627.6 L659.0,1337.0" stroke="#2b2a29" stroke-width="4.1" fill="none" stroke-linejoin="round" stroke-linecap="butt"/>
<path d="M523.5,1337.3 L552.4,1362.8" stroke="#2b2a29" stroke-width="4.1" fill="none" stroke-linejoin="round" stroke-linecap="butt"/>
<path d="M656.6,1337.3 L627.6,1362.8" stroke="#2b2a29" stroke-width="4.1" fill="none" stroke-linejoin="round" stroke-linecap="butt"/>
<path d="M691.5,1237.8 L699.0999999999999,1330.8 C699.8999999999999,1344.8 708.0999999999999,1354.8 721.0999999999999,1363.8" stroke="#2b2a29" stroke-width="4.8" fill="none" stroke-linejoin="round" stroke-linecap="butt"/>
<path d="M846.0999999999999,1237.8 L838.2,1330.8 C837.4000000000001,1344.8 829.2,1354.8 816.2,1363.8" stroke="#2b2a29" stroke-width="4.8" fill="none" stroke-linejoin="round" stroke-linecap="butt"/>
<path d="M723.0999999999999,1237.8 L731.0,1335.8 V1363.8" stroke="#2b2a29" stroke-width="4.1" fill="none" stroke-linejoin="round" stroke-linecap="butt"/>
<path d="M814.5,1237.8 L806.2,1335.8 V1363.8" stroke="#2b2a29" stroke-width="4.1" fill="none" stroke-linejoin="round" stroke-linecap="butt"/>
<path d="M699.6999999999999,1337.0 L731.0,1335.8 H806.2 L837.6,1337.0" stroke="#2b2a29" stroke-width="4.1" fill="none" stroke-linejoin="round" stroke-linecap="butt"/>
<path d="M702.0999999999999,1337.3 L731.0,1362.8" stroke="#2b2a29" stroke-width="4.1" fill="none" stroke-linejoin="round" stroke-linecap="butt"/>
<path d="M835.2,1337.3 L806.2,1362.8" stroke="#2b2a29" stroke-width="4.1" fill="none" stroke-linejoin="round" stroke-linecap="butt"/>
<g transform="translate(282.1,0) scale(1,1)" stroke="#2b2a29" fill="none" stroke-linejoin="round">
<circle cx="0" cy="1501.5" r="36.6" stroke-width="6.4"/>
<path d="M9.7,1480.7 A23,23 0 1 1 -21.6,1509.4" stroke-width="4"/>
<path d="M8,1484.3 A19,19 0 1 1 -17.9,1508.0" stroke-width="1.4"/>
<path d="M-50.4,1447 V1457 L-13.3,1507.6 Q-11,1509.5 -8,1509.5 H4 Q9.5,1509 10,1503 L8.5,1486 Q6,1473.5 15.5,1468.3 H37 Q42.4,1468.3 42.4,1463 V1447 Z" fill="#fff" stroke-width="4"/>
<path d="M10,1503 L8.5,1486 Q6,1473.5 15.5,1468.3" stroke-width="5.4"/>
<line x1="-22" y1="1450" x2="-22" y2="1497" stroke-width="3.9"/>
<path d="M-13,1508.3 H4" stroke-width="4.6"/>
<circle cx="0" cy="1501.5" r="4.1" stroke-width="3.4" fill="#fff"/>
<rect x="-50.4" y="1444" width="95.2" height="7.4" fill="#2b2a29" stroke="none"/>
<rect x="-48" y="1441.8" width="26" height="4" fill="#2b2a29" stroke="none"/>
<rect x="2" y="1440.5" width="16" height="4" fill="#2b2a29" stroke="none"/>
<line x1="44.7" y1="1452.6" x2="64" y2="1441.7" stroke-width="4.6"/>
</g>
<g transform="translate(857.0,0) scale(-1,1)" stroke="#2b2a29" fill="none" stroke-linejoin="round">
<circle cx="0" cy="1501.5" r="36.6" stroke-width="6.4"/>
<path d="M9.7,1480.7 A23,23 0 1 1 -21.6,1509.4" stroke-width="4"/>
<path d="M8,1484.3 A19,19 0 1 1 -17.9,1508.0" stroke-width="1.4"/>
<path d="M-50.4,1447 V1457 L-13.3,1507.6 Q-11,1509.5 -8,1509.5 H4 Q9.5,1509 10,1503 L8.5,1486 Q6,1473.5 15.5,1468.3 H37 Q42.4,1468.3 42.4,1463 V1447 Z" fill="#fff" stroke-width="4"/>
<path d="M10,1503 L8.5,1486 Q6,1473.5 15.5,1468.3" stroke-width="5.4"/>
<line x1="-22" y1="1450" x2="-22" y2="1497" stroke-width="3.9"/>
<path d="M-13,1508.3 H4" stroke-width="4.6"/>
<circle cx="0" cy="1501.5" r="4.1" stroke-width="3.4" fill="#fff"/>
<rect x="-50.4" y="1444" width="95.2" height="7.4" fill="#2b2a29" stroke="none"/>
<rect x="-48" y="1441.8" width="26" height="4" fill="#2b2a29" stroke="none"/>
<rect x="2" y="1440.5" width="16" height="4" fill="#2b2a29" stroke="none"/>
<line x1="44.7" y1="1452.6" x2="64" y2="1441.7" stroke-width="4.6"/>
</g>
<path d="M403.9,640.4 H702" stroke="#1a9de0" stroke-width="10.2" fill="none"/>
<path d="M424.2,640.4 H426.2 A103,103 0 0 1 529.2,743.4 L530.7,752" stroke="#1a9de0" stroke-width="10.2" fill="none"/>
<polygon points="532.3,775.8 515.5,728.5 531.8,735 548.6,728.5" fill="#1a9de0"/>
<path d="M561.1,640.4 H563.1 A103,103 0 0 1 666.1,743.4 L667.6,752" stroke="#1a9de0" stroke-width="10.2" fill="none"/>
<polygon points="669.2,775.8 652.4,728.5 668.7,735 685.5,728.5" fill="#1a9de0"/>
<path d="M699.1,640.4 H701.1 A103,103 0 0 1 804.1,743.4 L805.6,752" stroke="#1a9de0" stroke-width="10.2" fill="none"/>
<polygon points="807.2,775.8 790.4,728.5 806.7,735 823.5,728.5" fill="#1a9de0"/>
<rect x="875" y="793.0999999999999" width="92" height="10.4" fill="#1a9de0"/>
<polygon points="838.6,798.3 887,782.0999999999999 881.5,798.3 887,814.5" fill="#1a9de0"/>
<rect x="875" y="864.3" width="92" height="10.4" fill="#1a9de0"/>
<polygon points="838.6,869.5 887,853.3 881.5,869.5 887,885.7" fill="#1a9de0"/>
<rect x="875" y="923.5" width="92" height="10.4" fill="#1a9de0"/>
<polygon points="838.6,928.7 887,912.5 881.5,928.7 887,944.9000000000001" fill="#1a9de0"/>
<rect x="905" y="1131.3999999999999" width="33" height="10.4" fill="#1a9de0"/>
<polygon points="877.5,1136.6 924.5,1120.3 919.5,1136.6 924.5,1152.8999999999999" fill="#1a9de0"/>
<rect x="905" y="1215.8" width="33" height="10.4" fill="#1a9de0"/>
<polygon points="877.5,1221 924.5,1204.7 919.5,1221 924.5,1237.3" fill="#1a9de0"/>
<rect x="905" y="1300.6" width="33" height="10.4" fill="#1a9de0"/>
<polygon points="877.5,1305.8 924.5,1289.5 919.5,1305.8 924.5,1322.1" fill="#1a9de0"/>
</svg>
</body></html>
